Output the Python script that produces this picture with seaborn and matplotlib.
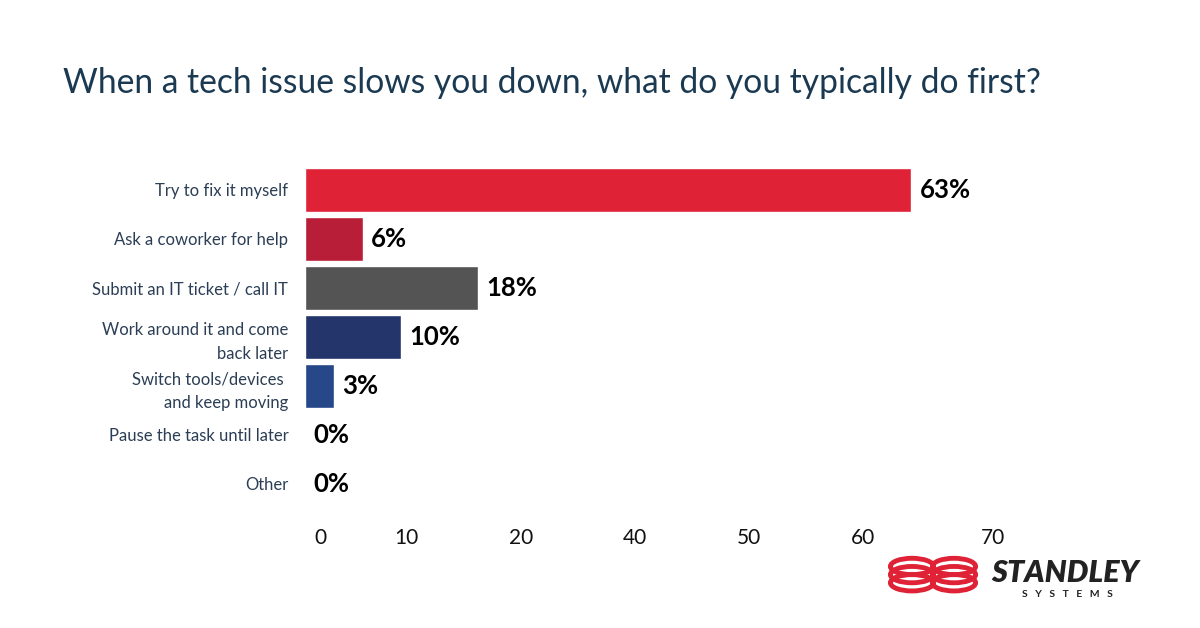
import matplotlib.pyplot as plt
import pandas as pd
import seaborn as sns
from matplotlib.patches import Ellipse

categories = [
    "Try to fix it myself",
    "Ask a coworker for help",
    "Submit an IT ticket / call IT",
    "Work around it and come\nback later",
    "Switch tools/devices \nand keep moving",
    "Pause the task until later",
    "Other",
]
values = [63, 6, 18, 10, 3, 0, 0]
bar_colors = ["#DF2236", "#B81E37", "#545454", "#23356A", "#264888", "#264888", "#264888"]
tick_pos = [1.6, 10.5, 22.4, 34.3, 46.1, 58.0, 71.5]
tick_labels = ["0", "10", "20", "40", "50", "60", "70"]
title = "When a tech issue slows you down, what do you typically do first?"

sns.set_theme(style="white")
plt.rcParams["font.family"] = ["Lato", "DejaVu Sans"]

df = pd.DataFrame({"answer": categories, "pct": values})

fig = plt.figure(figsize=(12, 6.28), dpi=100)
ax = fig.add_axes([0.2542, 0.1903, 0.5775, 0.5462])
sns.barplot(data=df, y="answer", x="pct", hue="answer", palette=bar_colors,
            orient="h", width=0.88, legend=False, ax=ax, saturation=1)

for cont in ax.containers:
    ax.bar_label(cont, labels=[f"{v:.0f}%" for v in cont.datavalues], padding=6,
                 fontsize=18.5, fontweight="bold", color="black")

ax.set_xlim(0, 72)
ax.set_xticks(tick_pos)
ax.set_xticklabels(tick_labels, fontsize=15, color="#111111")
ax.tick_params(axis="x", length=0, pad=14)
ax.tick_params(axis="y", length=0, pad=12, labelsize=12, labelcolor="#2B3E55")
for lbl in ax.get_yticklabels():
    lbl.set_linespacing(1.55)
ax.set_xlabel("")
ax.set_ylabel("")
sns.despine(ax=ax, left=True, bottom=True)

fig.text(0.0525, 0.868, title, fontsize=24.2, color="#1B3A52", va="center")

# logo
for dy in (0.0, 0.013, 0.026):
    for cx in (0.76, 0.795):
        fig.patches.append(Ellipse((cx, 0.072 + dy), 0.036, 0.026, transform=fig.transFigure,
                                   fill=False, edgecolor="#DF2236", linewidth=3.5))
fig.text(0.826, 0.066, "STANDLEY", fontsize=22, fontweight="heavy", style="italic",
         color="#222222", va="bottom")
fig.text(0.852, 0.046, "S   Y   S   T   E   M   S", fontsize=7.5, fontweight="bold",
         color="#222222", va="bottom")

fig.savefig("out.png", dpi=100)
